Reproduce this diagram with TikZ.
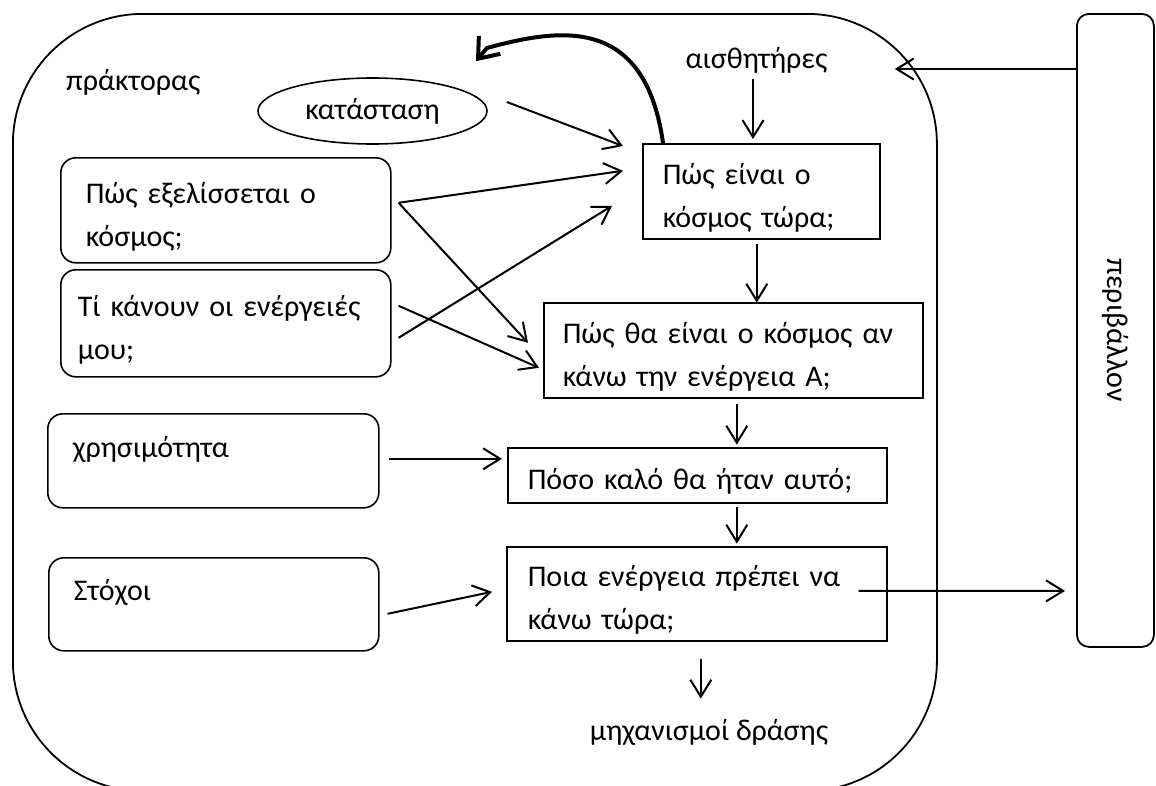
\documentclass[tikz,border=0pt]{standalone}
\usepackage{fontspec}
\setmainfont{Carlito}
\usetikzlibrary{arrows.meta,shapes.geometric,calc}
% taller first line, pushes two-line box texts a little lower
\newcommand\firstline{\rule{0pt}{34pt}}
\begin{document}
\begin{tikzpicture}[
  x=1pt, y=-1pt,
  every node/.style={font=\fontsize{30}{43}\selectfont, inner sep=0pt},
  box/.style={draw, line width=1.6pt, align=left, anchor=north west, inner ysep=0pt},
  rbox/.style={box, rounded corners=15pt},
  arr/.style={-{Straight Barb[length=17pt,width=21pt]}, line width=2pt},
  bigarr/.style={-{Straight Barb[length=18pt,width=28pt]}, line width=4pt},
]
\useasboundingbox (0,0) rectangle (1156,785);
\clip (0,0) rectangle (1156,785);

% agent frame and its label
\node[draw, line width=1.8pt, rounded corners=130pt, anchor=north west,
      minimum width=924pt, minimum height=777pt] (agent) at (12,13) {};
\node[anchor=base west] (agentlabel) at (66,90) {πράκτορας};

% environment
\node[draw, line width=1.8pt, rounded corners=12pt, anchor=north west,
      minimum width=77pt, minimum height=633pt] (env) at (1076,13)
      {\rotatebox{-90}{περιβάλλον}};

% internal state and sensors
\node[ellipse, draw, line width=1.6pt, minimum width=229pt, minimum height=66pt]
      (state) at (372.5,111) {κατάσταση};
\node[anchor=base] (sensors) at (756.5,68) {αισθητήρες};

% knowledge boxes on the left
\node[rbox, inner xsep=25pt, minimum width=330pt, minimum height=105pt, text width=280pt]
      (evol) at (60,157) {\firstline Πώς εξελίσσεται ο\\κόσμος;};
\node[rbox, inner xsep=17pt, minimum width=330pt, minimum height=107pt, text width=296pt]
      (acts) at (60,269) {\firstline Τί κάνουν οι ενέργειές\\μου;};
\node[rbox, inner xsep=25pt, minimum width=331pt, minimum height=94pt, text width=281pt,
      text height=21pt, text depth=27pt]
      (utility) at (47,413) {χρησιμότητα};
\node[rbox, inner xsep=25pt, minimum width=330pt, minimum height=93pt, text width=280pt,
      text height=21pt, text depth=28pt]
      (goals) at (48,557) {Στόχοι};

% reasoning chain in the middle
\node[box, inner xsep=20pt, minimum width=237pt, minimum height=95pt, text width=197pt]
      (now) at (642,143) {\firstline Πώς είναι ο\\κόσμος τώρα;};
\node[box, inner xsep=19pt, minimum width=379pt, minimum height=95pt, text width=341pt]
      (pred) at (543,302) {\firstline Πώς θα είναι ο κόσμος αν\\κάνω την ενέργεια Α;};
\node[box, inner xsep=20pt, minimum width=379pt, minimum height=55pt, text width=339pt,
      text height=35pt, text depth=7pt]
      (good) at (507,447) {Πόσο καλό θα ήταν αυτό;};
\node[box, inner xsep=21pt, minimum width=380pt, minimum height=94pt, text width=338pt]
      (decide) at (506,546) {\firstline Ποια ενέργεια πρέπει να\\κάνω τώρα;};
\node[anchor=base] (actuators) at (709,740) {μηχανισμοί δράσης};

% connectors
\draw[arr] ($(state.east)+(19,-9)$) -- ($(now.north west)+(-19,3)$);
\draw[arr] ($(sensors.base)+(-3.5,11)$) -- ($(sensors.base)+(-3.5,71)$);
\draw[arr] ($(evol.east)+(7,-7.5)$) -- ($(now.west)+(-19,-20.5)$);
\draw[arr] ($(evol.east)+(7,-7.5)$) -- ($(pred.west)+(-15,-7.5)$);
\draw[arr] ($(acts.east)+(7,14.5)$) -- ($(now.west)+(-30,14.5)$);
\draw[arr] ($(acts.east)+(7,-17.5)$) -- ($(pred.west)+(-4,17.5)$);
\draw[arr] ($(now.south)+(-4.5,4)$) -- ($(now.south)+(-4.5,63)$);
\draw[arr] ($(pred.south)+(3.5,5)$) -- ($(pred.south)+(3.5,46)$);
\draw[arr] ($(good.south)+(39.5,3)$) -- ($(good.south)+(39.5,40)$);
\draw[arr] ($(decide.south)+(4,17)$) -- ($(decide.south)+(4,57)$);
\draw[arr] ($(utility.east)+(9,-2)$) -- ($(good.west)+(-5,-16.5)$);
\draw[arr] ($(goals.east)+(8,9.5)$) -- ($(decide.west)+(-14,-2)$);
\draw[arr] ($(env.north west)+(0,56)$) -- ($(agent.north east)+(-43,56)$);
\draw[arr] ($(decide.east)+(-29,-3)$) -- ($(env.west)+(-11,260.5)$);

% update of the internal state
\draw[bigarr] ($(now.north west)+(21,0)$) .. controls (645,15) and (560,28) .. (487,48)
      -- ($(state.north)+(103.5,-16)$);
\end{tikzpicture}
\end{document}
